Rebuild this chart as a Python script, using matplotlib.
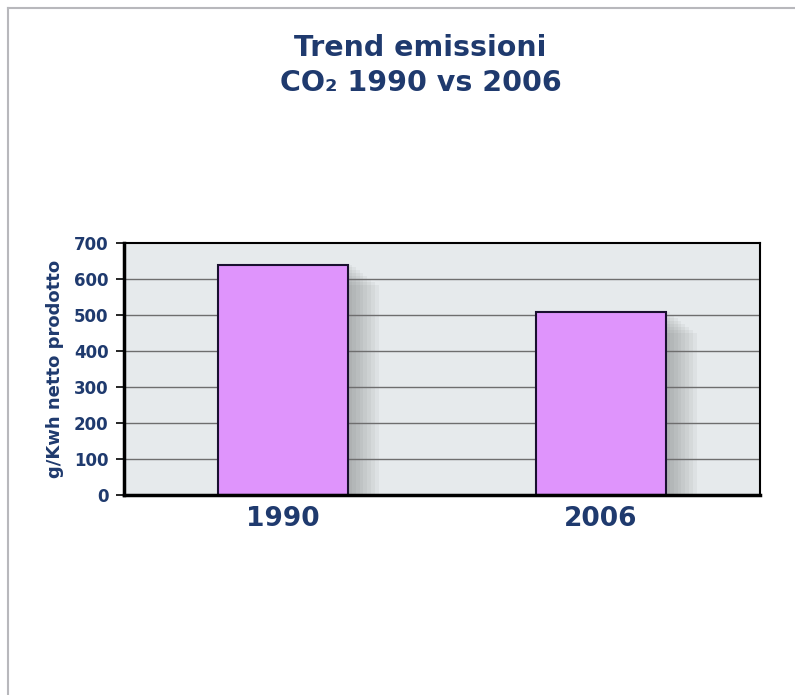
import matplotlib
matplotlib.use("Agg")
import matplotlib.pyplot as plt
from matplotlib.patches import Rectangle
import numpy as np

categories = ["1990", "2006"]
values = [640, 507]
yticks = [0, 100, 200, 300, 400, 500, 600, 700]

navy = "#1f3a6e"
W, H = 795, 695
fig = plt.figure(figsize=(W/100, H/100), dpi=100)
fig.patch.set_facecolor("white")

# outer frame lines (top and left)
fig.add_artist(plt.Line2D([8/W, 1], [1-8/H, 1-8/H], color="#b8b8bc", lw=1.5))
fig.add_artist(plt.Line2D([8/W, 8/W], [0, 1-8/H], color="#b8b8bc", lw=1.5))

fig.text(420/W, 1-48/H, "Trend emissioni", ha="center", va="center",
         fontsize=20.5, fontweight="bold", color=navy, family="DejaVu Sans")
fig.text(421/W, 1-83/H, "CO\u2082 1990 vs 2006", ha="center", va="center",
         fontsize=20.5, fontweight="bold", color=navy, family="DejaVu Sans")

ax = fig.add_axes([124/W, 1-495/H, (760-124)/W, (495-243)/H])
ax.set_facecolor("#e6eaec")
x = np.arange(len(categories))
ax.set_xlim(-0.5, 1.5)
ax.set_ylim(0, 700)

for yv in yticks[1:-1]:
    ax.axhline(yv, color="#6e6e6e", lw=1.0, zorder=1)

# soft shadows to the right of the bars
for k in range(8):
    off = 0.012 * (k + 1)
    ax.bar(x + off, np.array(values) - 8 * k, width=0.41, color="#707070",
           alpha=0.07, zorder=2, lw=0)
ax.bar(x, values, width=0.41, color="#df94fc", edgecolor="#1a1030", lw=1.5, zorder=3)

ax.set_yticks(yticks)
ax.set_yticklabels([str(v) for v in yticks], fontsize=12, fontweight="bold", color=navy)
ax.set_xticks(x)
ax.set_xticklabels(categories, fontsize=19, fontweight="bold", color=navy)
ax.tick_params(axis="x", length=0, pad=8)
ax.tick_params(axis="y", length=6, width=1.2, direction="out", pad=5)
ax.set_ylabel("g/Kwh netto prodotto", fontsize=13, fontweight="bold", color=navy, labelpad=7)

ax.spines["left"].set_linewidth(2.5)
ax.spines["bottom"].set_linewidth(2.5)
ax.spines["top"].set_linewidth(1.5)
ax.spines["right"].set_linewidth(1.5)
for s in ax.spines.values():
    s.set_color("black")
    s.set_zorder(5)

fig.savefig("out.png", dpi=100)
